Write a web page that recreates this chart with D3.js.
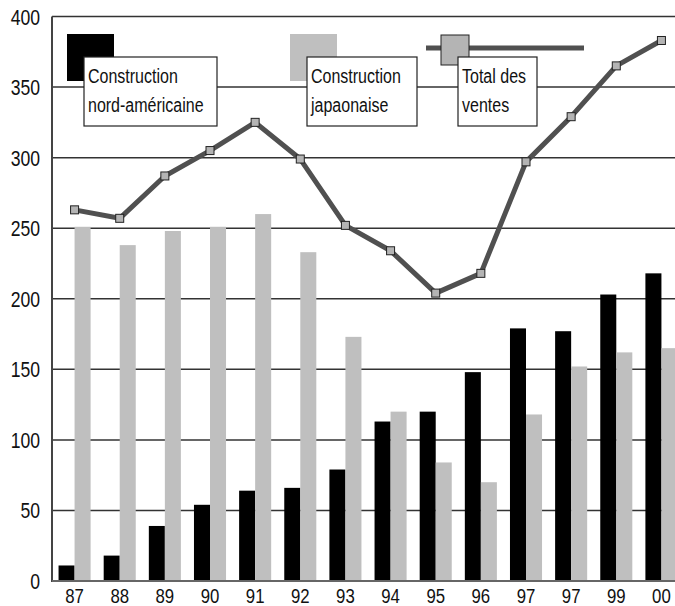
<!DOCTYPE html>
<html>
<head>
<meta charset="utf-8">
<script src="https://cdn.jsdelivr.net/npm/d3@7"></script>
<style>
  body { margin: 0; background: #fff; }
  text { font-family: "Liberation Sans", Arial, sans-serif; }
</style>
</head>
<body>
<div id="chart"></div>
<script>
// data
var years = ["87", "88", "89", "90", "91", "92", "93", "94", "95", "96", "97", "97 ", "99", "00"];
var nordAm = [11, 18, 39, 54, 64, 66, 79, 113, 120, 148, 179, 177, 203, 218];
var japon = [251, 238, 248, 251, 260, 233, 173, 120, 84, 70, 118, 152, 162, 165];
var total = [263, 257, 287, 305, 325, 299, 252, 234, 204, 218, 297, 329, 365, 383];
var yTicks = [0, 50, 100, 150, 200, 250, 300, 350, 400];

var svgWidth = 675;
var svgHeight = 606;
var plotLeft = 52, plotRight = 684, plotTop = 16.5, plotBottom = 581;
var squeeze = 0.8; // narrow font look

var svg = d3.select("#chart")
  .append("svg")
  .attr("width", svgWidth)
  .attr("height", svgHeight);

function narrowText(sel, x, y) {
  return sel.attr("transform", "translate(" + x + "," + y + ") scale(" + squeeze + ",1)");
}

var xScale = d3.scaleBand()
  .domain(years)
  .range([plotLeft, plotRight])
  .paddingInner(0.29)
  .paddingOuter(0.145);

var xInner = d3.scaleBand()
  .domain(["n", "j"])
  .range([0, xScale.bandwidth()]);

var yScale = d3.scaleLinear()
  .domain([0, 400])
  .range([plotBottom, plotTop]);

// gridlines
svg.append("g")
  .selectAll("line")
  .data(yTicks.filter(d => d > 0))
  .enter()
  .append("line")
  .attr("x1", plotLeft)
  .attr("x2", svgWidth)
  .attr("y1", d => yScale(d))
  .attr("y2", d => yScale(d))
  .attr("stroke", "#333")
  .attr("stroke-width", 1.5);

// y tick labels
svg.append("g")
  .selectAll("text")
  .data(yTicks)
  .enter()
  .append("text")
  .each(function(d) { narrowText(d3.select(this), 40, yScale(d) + 8); })
  .attr("text-anchor", "end")
  .attr("font-size", 22)
  .attr("fill", "#111")
  .text(d => d);

// bars
var groups = svg.append("g")
  .selectAll("g")
  .data(years)
  .enter()
  .append("g")
  .attr("transform", d => "translate(" + xScale(d) + ",0)");

groups.append("rect")
  .attr("x", xInner("n"))
  .attr("width", xInner.bandwidth())
  .attr("y", (d, i) => yScale(nordAm[i]))
  .attr("height", (d, i) => plotBottom - yScale(nordAm[i]))
  .attr("fill", "#000");

groups.append("rect")
  .attr("x", xInner("j"))
  .attr("width", xInner.bandwidth())
  .attr("y", (d, i) => yScale(japon[i]))
  .attr("height", (d, i) => plotBottom - yScale(japon[i]))
  .attr("fill", "#bfbfbf");

// axes lines
svg.append("line")
  .attr("x1", plotLeft).attr("x2", plotLeft)
  .attr("y1", plotTop).attr("y2", plotBottom + 1)
  .attr("stroke", "#444").attr("stroke-width", 2);
svg.append("line")
  .attr("x1", plotLeft).attr("x2", svgWidth)
  .attr("y1", plotBottom).attr("y2", plotBottom)
  .attr("stroke", "#666").attr("stroke-width", 2);

// x labels
svg.append("g")
  .selectAll("text")
  .data(years)
  .enter()
  .append("text")
  .each(function(d) { narrowText(d3.select(this), xScale(d) + xScale.bandwidth() / 2, 603); })
  .attr("text-anchor", "middle")
  .attr("font-size", 21)
  .attr("fill", "#111")
  .text(d => d.trim());

// total line
var line = d3.line()
  .x((d, i) => xScale(years[i]) + xScale.bandwidth() / 2)
  .y(d => yScale(d));

svg.append("path")
  .datum(total)
  .attr("d", line)
  .attr("fill", "none")
  .attr("stroke", "#505050")
  .attr("stroke-width", 5)
  .attr("stroke-linejoin", "round");

svg.append("g")
  .selectAll("rect")
  .data(total)
  .enter()
  .append("rect")
  .attr("x", (d, i) => xScale(years[i]) + xScale.bandwidth() / 2 - 4)
  .attr("y", d => yScale(d) - 4)
  .attr("width", 8)
  .attr("height", 8)
  .attr("fill", "#b4b4b4")
  .attr("stroke", "#222")
  .attr("stroke-width", 1);

// legend
var legend = svg.append("g");

legend.append("rect")
  .attr("x", 67).attr("y", 34).attr("width", 47).attr("height", 47)
  .attr("fill", "#000");
legend.append("rect")
  .attr("x", 290).attr("y", 34).attr("width", 47).attr("height", 47)
  .attr("fill", "#bfbfbf");
legend.append("line")
  .attr("x1", 426).attr("x2", 584).attr("y1", 48).attr("y2", 48)
  .attr("stroke", "#505050").attr("stroke-width", 5);
legend.append("rect")
  .attr("x", 441).attr("y", 35).attr("width", 28).attr("height", 30)
  .attr("fill", "#b4b4b4").attr("stroke", "#222").attr("stroke-width", 1);

var boxes = [
  { x: 84, w: 133, lines: ["Construction", "nord-américaine"] },
  { x: 307, w: 110, lines: ["Construction", "japaonaise"] },
  { x: 458, w: 79, lines: ["Total des", "ventes"] }
];

boxes.forEach(function(b) {
  legend.append("rect")
    .attr("x", b.x).attr("y", 57).attr("width", b.w).attr("height", 69)
    .attr("fill", "#fff").attr("stroke", "#222").attr("stroke-width", 1.2);
  b.lines.forEach(function(t, k) {
    narrowText(legend.append("text"), b.x + 4, 83 + k * 29)
      .attr("font-size", 20)
      .attr("fill", "#111")
      .text(t);
  });
});
</script>
</body>
</html>
